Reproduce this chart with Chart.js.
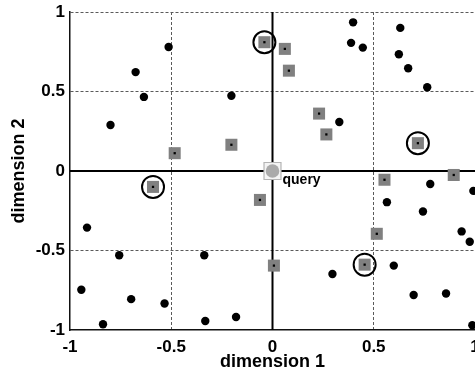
<!DOCTYPE html>
<html><head><meta charset="utf-8">
<script src="https://cdn.jsdelivr.net/npm/chart.js@4/dist/chart.umd.min.js"></script>
<style>html,body{margin:0;padding:0;background:#fff;overflow:hidden}</style>
</head><body>
<canvas id="c" width="475" height="374"></canvas>
<script>
// ---- data ----
const tickValues = [-1, -0.5, 0, 0.5, 1];
const tickLabels = ['-1', '-0.5', '0', '0.5', '1'];
const xTitle = 'dimension 1';
const yTitle = 'dimension 2';
const queryLabel = 'query';

const dotsX = [-0.513,-0.676,-0.635,-0.80,-0.203,0.398,0.388,0.446,0.631,0.624,0.670,0.764,0.330,0.779,0.992,
               -0.916,-0.757,-0.337,-0.944,-0.698,-0.533,-0.837,-0.332,-0.18,0.296,0.565,0.743,0.934,0.974,0.599,0.697,0.857,0.987];
const dotsY = [0.78,0.622,0.466,0.289,0.473,0.935,0.806,0.776,0.90,0.734,0.646,0.527,0.308,-0.082,-0.125,
               -0.356,-0.53,-0.53,-0.747,-0.806,-0.833,-0.964,-0.943,-0.918,-0.648,-0.196,-0.255,-0.38,-0.445,-0.595,-0.78,-0.77,-0.97];

const squaresX = [-0.483,-0.203,0.061,0.081,0.230,0.266,0.553,0.895,-0.062,0.007,0.515];
const squaresY = [0.112,0.165,0.768,0.631,0.361,0.23,-0.055,-0.025,-0.182,-0.595,-0.395];

const circledX = [-0.04,0.718,-0.59,0.455];
const circledY = [0.81,0.175,-0.10,-0.589];

const queryX = [0];
const queryY = [0];

// ---- build ----
const pts = (xs, ys) => xs.map((x, i) => ({x, y: ys[i]}));
const allSquares = pts(squaresX.concat(circledX), squaresY.concat(circledY));
const FONT = '"Liberation Sans", Arial, sans-serif';
const fmt = v => { const i = tickValues.indexOf(v); return i >= 0 ? tickLabels[i] : ''; };

const queryText = {
  id: 'queryText',
  afterDatasetsDraw(chart) {
    const {ctx, scales: {x, y}} = chart;
    ctx.save();
    ctx.font = 'bold 14px ' + FONT;
    ctx.fillStyle = '#000';
    ctx.textBaseline = 'alphabetic';
    ctx.fillText(queryLabel, x.getPixelForValue(queryX[0]) + 10, y.getPixelForValue(queryY[0]) + 13);
    ctx.restore();
  }
};

new Chart(document.getElementById('c'), {
  type: 'scatter',
  data: {
    datasets: [
      { type: 'line', data: [{x: -1, y: 0}, {x: 1, y: 0}], borderColor: '#000', borderWidth: 2, pointRadius: 0, order: 10 },
      { type: 'line', data: [{x: 0, y: -1}, {x: 0, y: 1}], borderColor: '#000', borderWidth: 2, pointRadius: 0, order: 10 },
      { data: pts(dotsX, dotsY), pointStyle: 'circle', pointRadius: 4.2, backgroundColor: '#000', borderColor: '#000', borderWidth: 0, order: 6 },
      { data: allSquares, pointStyle: 'rect', pointRadius: 8.5, backgroundColor: '#808080', borderWidth: 0, order: 5 },
      { data: allSquares, pointStyle: 'rect', pointRadius: 1.6, backgroundColor: '#000', borderWidth: 0, order: 4 },
      { data: pts(circledX, circledY), pointStyle: 'circle', pointRadius: 11, backgroundColor: 'rgba(0,0,0,0)', borderColor: '#000', borderWidth: 2, order: 3 },
      { data: pts(queryX, queryY), pointStyle: 'rect', pointRadius: 12, backgroundColor: '#f4f4f4', borderColor: '#b4b4b4', borderWidth: 1.2, order: 2 },
      { data: pts(queryX, queryY), pointStyle: 'circle', pointRadius: 6.8, backgroundColor: '#aaaaaa', borderWidth: 0, order: 1 }
    ]
  },
  options: {
    responsive: false,
    animation: false,
    events: [],
    layout: { autoPadding: false, padding: { top: 12, left: 0, right: 0, bottom: 0 } },
    plugins: { legend: { display: false }, tooltip: { enabled: false } },
    elements: { line: { tension: 0 } },
    scales: {
      x: {
        type: 'linear', min: -1, max: 1,
        afterBuildTicks: s => { s.ticks = tickValues.map(v => ({value: v})); },
        afterFit: s => { s.paddingLeft = 0; s.paddingRight = 0; s.height = 44; },
        ticks: { color: '#000', font: { family: FONT, size: 17, weight: 'bold' }, padding: 7, maxRotation: 0, callback: fmt },
        grid: {
          drawTicks: false,
          color: c => (c.tick && (c.tick.value === 0 || c.tick.value === -1 || c.tick.value === 1)) ? 'rgba(0,0,0,0)' : '#5a5a5a',
          lineWidth: 1
        },
        border: { display: true, color: '#111', width: 1.5, dash: [3, 2] },
        title: { display: true, text: xTitle, color: '#000', font: { family: FONT, size: 18, weight: 'bold' }, padding: { top: 0, bottom: 1 } }
      },
      y: {
        type: 'linear', min: -1, max: 1,
        afterBuildTicks: s => { s.ticks = tickValues.map(v => ({value: v})); },
        afterFit: s => { s.paddingTop = 0; s.paddingBottom = 0; s.width = 70; },
        ticks: { color: '#000', font: { family: FONT, size: 17, weight: 'bold' }, padding: 5, callback: fmt },
        grid: {
          drawTicks: false,
          color: c => (c.tick && (c.tick.value === 0 || c.tick.value === -1)) ? 'rgba(0,0,0,0)' : '#5a5a5a',
          lineWidth: 1
        },
        border: { display: true, color: '#111', width: 1.5, dash: [3, 2] },
        title: { display: true, text: yTitle, color: '#000', font: { family: FONT, size: 18, weight: 'bold' }, padding: { top: 8, bottom: 0 } }
      }
    }
  },
  plugins: [queryText]
});
</script>
</body></html>
